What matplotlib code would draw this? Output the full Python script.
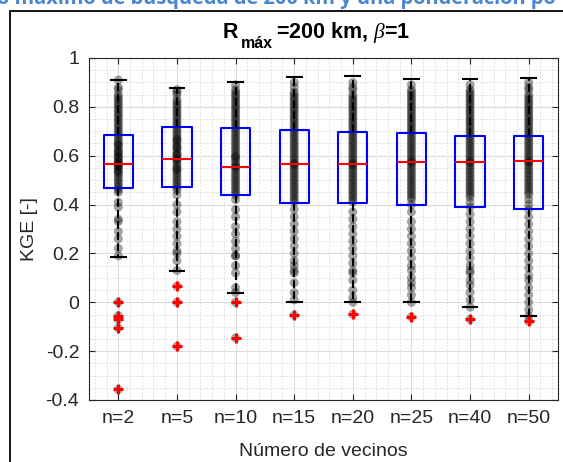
import matplotlib.pyplot as plt
import matplotlib.patches as patches
from matplotlib.ticker import MultipleLocator

plt.rcParams['font.family'] = ['Liberation Sans', 'DejaVu Sans']
plt.rcParams['axes.unicode_minus'] = False
plt.rcParams['mathtext.fontset'] = 'custom'
plt.rcParams['mathtext.rm'] = 'Liberation Sans'
plt.rcParams['mathtext.bf'] = 'Liberation Sans:bold'
plt.rcParams['mathtext.it'] = 'Liberation Serif:italic'

# grupos (número de vecinos)
labels = ['n=2', 'n=5', 'n=10', 'n=15', 'n=20', 'n=25', 'n=40', 'n=50']

# estadísticos de cada caja
q1 = [0.467, 0.471, 0.440, 0.405, 0.405, 0.400, 0.390, 0.380]
med = [0.566, 0.586, 0.553, 0.566, 0.566, 0.574, 0.574, 0.578]
q3 = [0.684, 0.717, 0.713, 0.705, 0.697, 0.693, 0.680, 0.680]
whis_lo = [0.184, 0.127, 0.037, 0.0, 0.0, 0.0, -0.020, -0.057]
whis_hi = [0.910, 0.877, 0.900, 0.922, 0.926, 0.914, 0.914, 0.918]

# valores atípicos (+ rojas)
out_n2 = [0.0, -0.055, -0.07, -0.105, -0.357]
out_n5 = [0.066, 0.0, -0.18]
out_n10 = [0.0, -0.146]
out_n15 = [-0.053]
out_n20 = [-0.049]
out_n25 = [-0.06]
out_n40 = [-0.07]
out_n50 = [-0.078]

# valores KGE de las cuencas (puntos grises)
kge_n2 = [0.91, 0.88, 0.87, 0.85, 0.84, 0.83, 0.82, 0.81, 0.80, 0.79, 0.78, 0.77,
          0.76, 0.75, 0.74, 0.73, 0.72, 0.71, 0.70, 0.69, 0.68, 0.67, 0.66, 0.65,
          0.645, 0.64, 0.63, 0.62, 0.615, 0.61, 0.60, 0.595, 0.59, 0.58, 0.575, 0.57,
          0.565, 0.56, 0.555, 0.55, 0.54, 0.535, 0.53, 0.52, 0.51, 0.50, 0.49, 0.48,
          0.47, 0.46, 0.45, 0.41, 0.39, 0.34, 0.33, 0.29, 0.26, 0.22, 0.19]
kge_n5 = [0.87, 0.86, 0.85, 0.83, 0.82, 0.81, 0.80, 0.79, 0.78, 0.77, 0.76, 0.75,
          0.74, 0.73, 0.72, 0.71, 0.70, 0.69, 0.68, 0.67, 0.665, 0.66, 0.65, 0.64,
          0.635, 0.63, 0.62, 0.61, 0.605, 0.60, 0.59, 0.585, 0.58, 0.57, 0.56, 0.55,
          0.545, 0.54, 0.53, 0.52, 0.51, 0.50, 0.49, 0.48, 0.47, 0.46, 0.44, 0.40,
          0.37, 0.33, 0.30, 0.27, 0.24, 0.21, 0.20, 0.17, 0.13]
kge_n10 = [0.89, 0.87, 0.86, 0.85, 0.84, 0.83, 0.82, 0.81, 0.80, 0.79, 0.78, 0.77,
           0.76, 0.75, 0.74, 0.73, 0.72, 0.71, 0.70, 0.69, 0.68, 0.67, 0.66, 0.65,
           0.64, 0.63, 0.62, 0.61, 0.60, 0.595, 0.59, 0.58, 0.57, 0.56, 0.555, 0.55,
           0.54, 0.53, 0.52, 0.51, 0.50, 0.49, 0.48, 0.47, 0.46, 0.45, 0.44, 0.42,
           0.38, 0.35, 0.31, 0.28, 0.25, 0.22, 0.19, 0.19, 0.15, 0.12, 0.06, 0.04]
kge_n15 = [0.90, 0.88, 0.86, 0.85, 0.84, 0.83, 0.82, 0.81, 0.80, 0.79, 0.78, 0.77,
           0.76, 0.75, 0.74, 0.73, 0.72, 0.71, 0.70, 0.69, 0.68, 0.67, 0.66, 0.65,
           0.64, 0.63, 0.62, 0.61, 0.60, 0.59, 0.58, 0.57, 0.565, 0.56, 0.55, 0.54,
           0.53, 0.52, 0.51, 0.50, 0.49, 0.48, 0.47, 0.46, 0.45, 0.44, 0.43, 0.42,
           0.41, 0.38, 0.35, 0.32, 0.29, 0.26, 0.23, 0.20, 0.17, 0.15, 0.13, 0.12,
           0.08, 0.04, 0.01]
kge_n20 = [0.90, 0.88, 0.87, 0.85, 0.84, 0.83, 0.82, 0.81, 0.80, 0.79, 0.78, 0.77,
           0.76, 0.75, 0.74, 0.73, 0.72, 0.71, 0.70, 0.69, 0.68, 0.67, 0.66, 0.65,
           0.64, 0.63, 0.62, 0.61, 0.60, 0.59, 0.58, 0.57, 0.565, 0.56, 0.55, 0.54,
           0.53, 0.52, 0.51, 0.50, 0.49, 0.48, 0.47, 0.46, 0.45, 0.44, 0.43, 0.42,
           0.41, 0.37, 0.34, 0.31, 0.28, 0.25, 0.22, 0.19, 0.16, 0.13, 0.12, 0.09,
           0.05, 0.02, 0.0]
kge_n25 = [0.89, 0.87, 0.86, 0.85, 0.84, 0.83, 0.82, 0.81, 0.80, 0.79, 0.78, 0.77,
           0.76, 0.75, 0.74, 0.73, 0.72, 0.71, 0.70, 0.69, 0.68, 0.67, 0.66, 0.65,
           0.64, 0.63, 0.62, 0.61, 0.60, 0.59, 0.58, 0.575, 0.57, 0.56, 0.55, 0.54,
           0.53, 0.52, 0.51, 0.50, 0.49, 0.48, 0.47, 0.46, 0.45, 0.44, 0.43, 0.42,
           0.40, 0.37, 0.33, 0.30, 0.27, 0.24, 0.21, 0.18, 0.15, 0.13, 0.10, 0.08,
           0.06, 0.03, 0.0]
kge_n40 = [0.89, 0.87, 0.86, 0.85, 0.84, 0.83, 0.82, 0.81, 0.80, 0.79, 0.78, 0.77,
           0.76, 0.75, 0.74, 0.73, 0.72, 0.71, 0.70, 0.69, 0.68, 0.67, 0.66, 0.65,
           0.64, 0.63, 0.62, 0.61, 0.60, 0.59, 0.58, 0.575, 0.57, 0.56, 0.55, 0.54,
           0.53, 0.52, 0.51, 0.50, 0.49, 0.48, 0.47, 0.46, 0.45, 0.44, 0.43, 0.41,
           0.39, 0.36, 0.33, 0.30, 0.27, 0.24, 0.21, 0.18, 0.15, 0.13, 0.12, 0.09,
           0.07, 0.04, 0.01, -0.02]
kge_n50 = [0.90, 0.88, 0.87, 0.85, 0.84, 0.83, 0.82, 0.81, 0.80, 0.79, 0.78, 0.77,
           0.76, 0.75, 0.74, 0.73, 0.72, 0.71, 0.70, 0.69, 0.68, 0.67, 0.66, 0.65,
           0.64, 0.63, 0.62, 0.61, 0.60, 0.59, 0.58, 0.575, 0.57, 0.56, 0.55, 0.54,
           0.53, 0.52, 0.51, 0.50, 0.49, 0.48, 0.47, 0.46, 0.45, 0.44, 0.42, 0.40,
           0.38, 0.35, 0.32, 0.29, 0.26, 0.23, 0.20, 0.17, 0.14, 0.11, 0.09, 0.06,
           0.03, 0.0, -0.03, -0.057]

kge = [kge_n2, kge_n5, kge_n10, kge_n15, kge_n20, kge_n25, kge_n40, kge_n50]
outliers = [out_n2, out_n5, out_n10, out_n15, out_n20, out_n25, out_n40, out_n50]

fig = plt.figure(figsize=(5.63, 4.62), dpi=100)
ax = fig.add_axes([89/563, 1-400/462, (558-89)/563, (400-58)/462])

# puntos grises
for i in range(len(labels)):
    vals = kge[i] + outliers[i]
    ax.scatter([i+1]*len(vals), vals, s=42, color='black', alpha=0.36,
               edgecolors='none', zorder=2)

stats = []
for i in range(len(labels)):
    stats.append({'med': med[i], 'q1': q1[i], 'q3': q3[i],
                  'whislo': whis_lo[i], 'whishi': whis_hi[i],
                  'fliers': outliers[i], 'label': labels[i]})

ax.bxp(stats, positions=range(1, 9), widths=0.5, showfliers=True,
       boxprops=dict(color='#0000ff', linewidth=1.5),
       medianprops=dict(color='#ff0000', linewidth=1.5),
       whiskerprops=dict(color='black', linewidth=1.5, linestyle='--'),
       capprops=dict(color='black', linewidth=1.5),
       capwidths=0.25,
       flierprops=dict(marker='+', markeredgecolor='#ff0000', markersize=7,
                       markeredgewidth=2.2),
       zorder=3)

ax.set_xlim(0.5, 8.5)
ax.set_ylim(-0.4, 1)
ax.set_xticks(range(1, 9))
ax.set_xticklabels(labels)
ax.set_yticks([-0.4, -0.2, 0, 0.2, 0.4, 0.6, 0.8, 1])
ax.set_yticklabels(['-0.4', '-0.2', '0', '0.2', '0.4', '0.6', '0.8', '1'])
ax.xaxis.set_minor_locator(MultipleLocator(0.2))
ax.yaxis.set_minor_locator(MultipleLocator(0.05))

ax.grid(True, which='major', color='#dcdcdc', linewidth=0.8, zorder=0)
ax.grid(True, which='minor', color='#d8d8d8', linewidth=0.6, linestyle=(0, (2, 2)))
ax.set_axisbelow(True)
ax.tick_params(axis='both', which='major', direction='in', length=4, width=0.8,
               top=True, right=True, labelsize=14, colors='#262626', pad=7)
ax.tick_params(axis='both', which='minor', length=0)
for s in ax.spines.values():
    s.set_color('#262626')
    s.set_linewidth(0.8)

fig.text(30/563, 1-229/462, 'KGE [-]', rotation=90, ha='center', va='center',
         fontsize=14, color='#262626')
fig.text(323/563, 1-452/462, 'Número de vecinos', ha='center', va='center',
         fontsize=14, color='#262626')

# título estilo MATLAB: R con subíndice grande
fig.text(223/563, 1-38/462, 'R', ha='left', va='baseline', fontsize=15.5,
         fontweight='bold', color='black')
fig.text(241/563, 1-48/462, 'máx', ha='left', va='baseline', fontsize=11.5,
         fontweight='bold', color='black')
fig.text(276/563, 1-38/462, r'=200 km, $\beta$=1', ha='left', va='baseline',
         fontsize=15.5, fontweight='bold', color='black')

# texto del documento recortado arriba y marco
fig.text(-0.006, 1-4/462, 'o máximo de búsqueda de 200 km y una ponderación po',
         ha='left', va='baseline', fontsize=14.4, fontweight='bold', color='#4a86cf',
         family=['Open Sans', 'DejaVu Sans'])
fig.patches.append(patches.Rectangle((10/563, -0.1), 1.2, 1-11/462+0.1,
                                     transform=fig.transFigure, fill=False,
                                     edgecolor='black', linewidth=1.3))

fig.savefig('out.png', dpi=100)
